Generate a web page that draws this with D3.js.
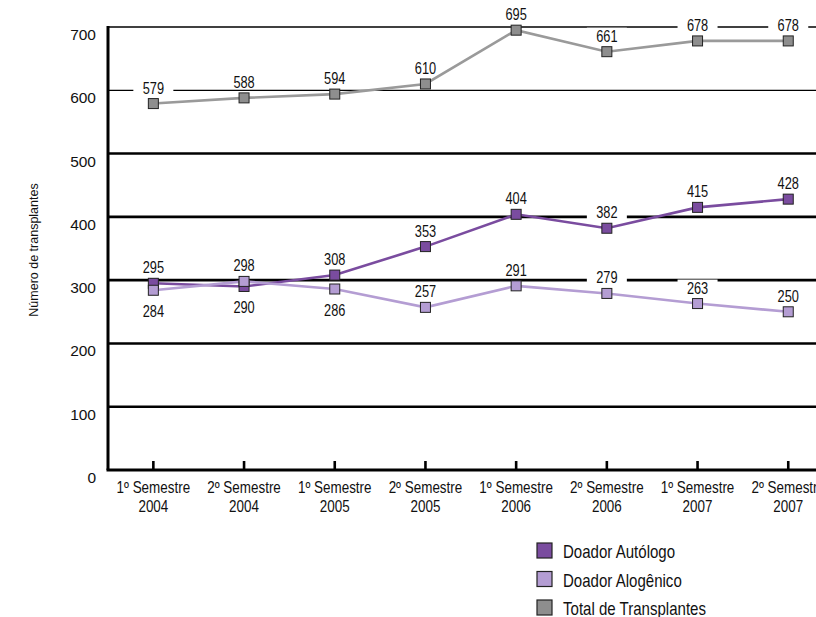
<!DOCTYPE html>
<html><head><meta charset="utf-8">
<script src="https://cdn.jsdelivr.net/npm/d3@7"></script>
<style>
body{margin:0;background:#fff;}
svg{display:block;}
text{font-family:"Liberation Sans",Arial,sans-serif;fill:#111;}
</style></head>
<body>
<svg id="chart" width="816" height="617"></svg>
<script>
const categories = ["1º Semestre|2004","2º Semestre|2004","1º Semestre|2005","2º Semestre|2005","1º Semestre|2006","2º Semestre|2006","1º Semestre|2007","2º Semestre|2007"];
const autologo = [295, 290, 308, 353, 404, 382, 415, 428];
const alogenico = [284, 298, 286, 257, 291, 279, 263, 250];
const total = [579, 588, 594, 610, 695, 661, 678, 678];
const autoLabelBelow = [false, true, false, false, false, false, false, false];
const alogLabelBelow = [true, false, true, false, false, false, false, false];
const yTicks = [0, 100, 200, 300, 400, 500, 600, 700];
const seriesNames = ["Doador Autólogo", "Doador Alogênico", "Total de Transplantes"];
const colors = ["#7a4c9f", "#b49dd3", "#9a9a9a"];
const markerFill = ["#7a4c9f", "#b49dd3", "#8e8e8e"];

const svg = d3.select("#chart");
const plotLeft = 108, plotTop = 27, plotBottom = 470;
const x = d3.scaleBand().domain(categories).range([plotLeft, plotLeft + 8 * 90.7]).padding(0);
const y = d3.scaleLinear().domain([0, 700]).range([plotBottom, plotTop]);
const cx = c => x(c) + x.bandwidth() / 2;

// condensed text helper
function ctext(parent, tx, ty, str, size, anchor, sx) {
  const g = parent.append("g").attr("transform", `translate(${tx},${ty}) scale(${sx},1)`);
  g.append("text").attr("x", 0).attr("y", 0).attr("text-anchor", anchor || "middle")
    .attr("font-size", size).text(str);
  return g;
}

// gridlines
svg.append("g").selectAll("line").data(yTicks.filter(t => t > 0)).join("line")
  .attr("x1", plotLeft).attr("x2", 816)
  .attr("y1", d => y(d)).attr("y2", d => y(d))
  .attr("stroke", "#000")
  .attr("stroke-width", d => d >= 600 ? 1.3 : 2.6);

// y tick labels
svg.append("g").selectAll("text").data(yTicks).join("text")
  .attr("x", 96).attr("y", d => y(d) + 13)
  .attr("text-anchor", "end")
  .attr("font-size", 15.5)
  .text(d => d);

// y axis title
svg.append("text")
  .attr("transform", "translate(38,250) rotate(-90)")
  .attr("text-anchor", "middle")
  .attr("font-size", 12.5)
  .text("Número de transplantes");

// x axis
const xAxis = svg.append("g").attr("transform", `translate(0,${plotBottom})`)
  .call(d3.axisBottom(x).tickSize(-9).tickFormat(""));
xAxis.select(".domain").remove();
xAxis.selectAll(".tick line").attr("stroke", "#000").attr("stroke-width", 2.6);
svg.append("line").attr("x1", plotLeft - 1.5).attr("x2", 816).attr("y1", plotBottom).attr("y2", plotBottom)
  .attr("stroke", "#000").attr("stroke-width", 3);
svg.append("line").attr("x1", plotLeft).attr("x2", plotLeft).attr("y1", plotTop - 1).attr("y2", plotBottom)
  .attr("stroke", "#000").attr("stroke-width", 3);

// x labels
const xl = svg.append("g");
categories.forEach(c => {
  const [a, b] = c.split("|");
  ctext(xl, cx(c), 493, a, 16, "middle", 0.84);
  ctext(xl, cx(c), 512, b, 16, "middle", 0.84);
});

// data labels configuration
const series = [
  {vals: autologo, below: autoLabelBelow},
  {vals: alogenico, below: alogLabelBelow},
  {vals: total, below: total.map(() => false)}
];

const labelInfo = [];
series.forEach((s, si) => {
  s.vals.forEach((v, i) => {
    const px = cx(categories[i]);
    const py = y(v);
    const ly = s.below[i] ? py + 27 : py - 10;
    labelInfo.push({px, ly, v});
  });
});
// label backgrounds
svg.append("g").selectAll("rect").data(labelInfo).join("rect")
  .attr("x", d => d.px - 20).attr("y", d => d.ly - 14)
  .attr("width", 40).attr("height", 15)
  .attr("fill", "#fff");

// lines and markers
const line = d3.line().x((d, i) => cx(categories[i])).y(d => y(d));
series.forEach((s, si) => {
  svg.append("path").datum(s.vals).attr("d", line)
    .attr("fill", "none").attr("stroke", colors[si]).attr("stroke-width", 2.6);
});
series.forEach((s, si) => {
  svg.append("g").selectAll("rect").data(s.vals).join("rect")
    .attr("x", (d, i) => cx(categories[i]) - 5).attr("y", d => y(d) - 5)
    .attr("width", 10).attr("height", 10)
    .attr("fill", markerFill[si]).attr("stroke", "#222").attr("stroke-width", 1);
});

// label texts
const lt = svg.append("g");
labelInfo.forEach(d => ctext(lt, d.px, d.ly, d.v, 16, "middle", 0.8));

// legend
const lg = svg.append("g");
seriesNames.forEach((n, i) => {
  const yy = 543 + i * 28.5;
  lg.append("rect").attr("x", 537).attr("y", yy).attr("width", 15).attr("height", 15)
    .attr("fill", markerFill[i]).attr("stroke", "#222").attr("stroke-width", 1.2);
  ctext(lg, 563, yy + 15, n, 17.5, "start", 0.86);
});
</script>
</body></html>
